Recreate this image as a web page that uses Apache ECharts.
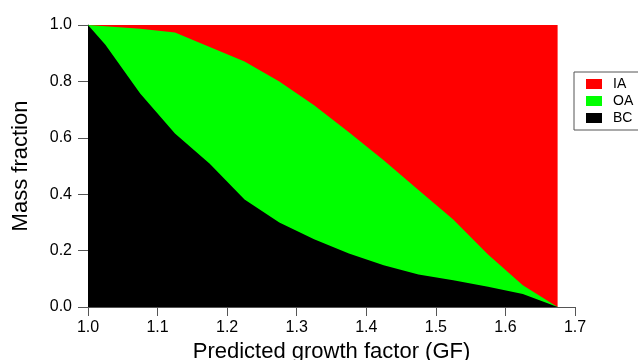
<!DOCTYPE html>
<html>
<head>
<meta charset="utf-8">
<script src="https://cdn.jsdelivr.net/npm/echarts@6/dist/echarts.min.js"></script>
<style>
html, body { margin: 0; padding: 0; background: #fff; }
#chart { width: 638px; height: 360px; }
</style>
</head>
<body>
<div id="chart"></div>
<script>
var gf = [1.0, 1.025, 1.075, 1.125, 1.175, 1.225, 1.275, 1.325, 1.375, 1.425, 1.475, 1.525, 1.575, 1.625, 1.675];
var bcFrac = [1.0, 0.93, 0.757, 0.615, 0.508, 0.381, 0.30, 0.24, 0.19, 0.148, 0.115, 0.095, 0.072, 0.046, 0.0];
var oaFrac = [0.0, 0.066, 0.23, 0.358, 0.414, 0.49, 0.50, 0.475, 0.43, 0.372, 0.30, 0.215, 0.114, 0.031, 0.0];
var iaFrac = [0.0, 0.004, 0.013, 0.027, 0.078, 0.129, 0.20, 0.285, 0.38, 0.48, 0.585, 0.69, 0.814, 0.923, 1.0];
var legendNames = ['IA', 'OA', 'BC'];

// cumulative tops: BC at bottom, then OA, then IA
var bcTop = bcFrac.slice();
var oaTop = bcFrac.map(function(v, i) { return v + oaFrac[i]; });
var iaTop = oaTop.map(function(v, i) { return v + iaFrac[i]; });

function pairs(ys) {
	return gf.map(function(x, i) { return [x, ys[i]]; });
}

function area(name, ys, color) {
	return {
		name: name,
		type: 'line',
		symbol: 'none',
		silent: true,
		color: color,
		lineStyle: { width: 0 },
		areaStyle: { color: color, opacity: 1, origin: 'start' },
		data: pairs(ys)
	};
}

var axisText = { color: '#000', fontFamily: 'Liberation Sans', fontSize: 16 };
var axisLine = { show: true, lineStyle: { color: '#555', width: 1 } };
var titleText = { color: '#000', fontFamily: 'Liberation Sans', fontSize: 22 };

var option = {
	animation: false,
	backgroundColor: '#fff',
	textStyle: { fontFamily: 'Liberation Sans' },
	grid: { left: 88, right: 63, top: 25, bottom: 53, containLabel: false, outerBoundsMode: 'none' },
	legend: {
		data: legendNames,
		orient: 'vertical',
		left: 574,
		top: 72,
		itemWidth: 16,
		itemHeight: 10,
		itemGap: 3,
		padding: [5, 10, 5, 12],
		borderColor: '#555',
		borderWidth: 1,
		icon: 'rect',
		textStyle: { color: '#000', fontSize: 14, padding: [0, 0, 0, 6] }
	},
	xAxis: {
		type: 'value',
		min: 1.0,
		max: 1.7,
		interval: 0.1,
		name: 'Predicted growth factor (GF)',
		nameLocation: 'middle',
		nameGap: 32,
		nameTextStyle: titleText,
		axisLine: axisLine,
		axisTick: { show: true, length: 9, lineStyle: { color: '#555' } },
		axisLabel: Object.assign({ margin: 13, formatter: function(v) { return v.toFixed(1); } }, axisText),
		splitLine: { show: false }
	},
	yAxis: {
		type: 'value',
		min: 0,
		max: 1,
		interval: 0.2,
		name: 'Mass fraction',
		nameLocation: 'middle',
		nameGap: 56,
		nameTextStyle: titleText,
		axisLine: axisLine,
		axisTick: { show: true, length: 10, lineStyle: { color: '#555' } },
		axisLabel: Object.assign({ margin: 16, formatter: function(v) { return v.toFixed(1); } }, axisText),
		splitLine: { show: false }
	},
	series: [
		area('IA', iaTop, '#ff0000'),
		area('OA', oaTop, '#00ff00'),
		area('BC', bcTop, '#000000')
	]
};

var chart = echarts.init(document.getElementById('chart'));
chart.setOption(option);
</script>
</body>
</html>
